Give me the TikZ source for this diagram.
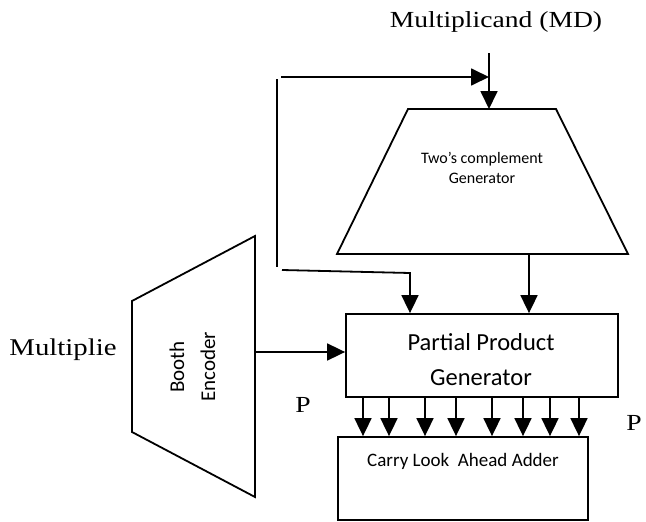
\documentclass[tikz,border=0pt]{standalone}
\usepackage{fontspec}
\setmainfont{Liberation Serif}[FakeStretch=1.2]
\newfontfamily\sansfont{Carlito}
\usetikzlibrary{arrows.meta}

\tikzset{
  wire/.style={line width=1.8pt, line join=miter},
  arr/.style={wire, -{Triangle[length=18pt 0,width=17pt 0]}},
  blockbox/.style={draw, line width=1.8pt, inner sep=0pt},
  serifl/.style={font=\fontsize{23}{27}\selectfont, inner sep=0pt},
  sansl/.style={font=\sansfont, inner sep=0pt, align=center},
}

\begin{document}
\begin{tikzpicture}[x=1pt, y=-1pt]
\useasboundingbox (0,0) rectangle (646,522);

% outside labels
\node[serifl] (md) at (496,22) {Multiplicand (MD)};
\node[serifl, font=\fontsize{24}{28}\selectfont] (mr) at (63,350) {Multiplie};
\node[serifl] (pleft) at (303,405) {P};
\node[serifl] (pright) at (634,423) {P};

% two's complement generator (trapezium)
\coordinate (tg1) at (408,109);
\coordinate (tg2) at (556,109);
\coordinate (tg3) at (628,254);
\coordinate (tg4) at (337,254);
\draw[wire] (tg1) -- (tg2) -- (tg3) -- (tg4) -- cycle;
\node[sansl, font=\sansfont\fontsize{16}{20}\selectfont] (tgtext) at (482,168)
  {Two’s complement\\Generator};

% Booth encoder (trapezium)
\coordinate (be1) at (255,236);
\coordinate (be2) at (132,301);
\coordinate (be3) at (132,432);
\coordinate (be4) at (255,497);
\draw[wire] (be1) -- (be2) -- (be3) -- (be4) -- cycle;
\node[sansl, rotate=90, font=\sansfont\fontsize{21}{25}\selectfont] (booth) at (177,367) {Booth};
\node[sansl, rotate=90, font=\sansfont\fontsize{21}{25}\selectfont] (enc) at (208,367) {Encoder};

% partial product generator
\node[blockbox, minimum width=272pt, minimum height=83pt] (ppg) at (482,355.5) {};
\node[sansl, font=\sansfont\fontsize{24.5}{35}\selectfont] (ppgtext) at (481,359.5)
  {Partial Product\\Generator};

% carry look-ahead adder
\node[blockbox, minimum width=250pt, minimum height=83pt] (cla) at (463,478.5) {};
\node[sansl, font=\sansfont\fontsize{19}{23}\selectfont] (clatext) at (463,461)
  {Carry Look\ \ Ahead Adder};

% multiplicand input and feedback path
\coordinate (mdin) at (489,53);
\coordinate (tgtop) at (489,109);
\draw[arr] (mdin) -- (tgtop);
\coordinate (fbtop) at (277,79);
\coordinate (fbbot) at (277,267);
\draw[wire] (fbtop) -- (fbbot);
\coordinate (fbin) at (281,77);
\draw[arr] (fbin) -- (fbin -| mdin);
\coordinate (fbo) at (282,270);
\coordinate (fbc) at (410,273);
\draw[arr] (fbo) -- (fbc) -- (fbc |- ppg.north);

% generator to partial products
\coordinate (tgout) at (529,254);
\draw[arr] (tgout) -- (tgout |- ppg.north);

% Booth encoder to partial products
\coordinate (beout) at (255,352);
\draw[arr] (beout) -- (beout -| ppg.west);

% partial products to adder
\foreach \xx [count=\i] in {363,389,425,456,492,523,550,579} {
  \coordinate (pp\i) at (\xx,0);
  \draw[arr] (pp\i |- ppg.south) -- (pp\i |- cla.north);
}
\end{tikzpicture}
\end{document}
